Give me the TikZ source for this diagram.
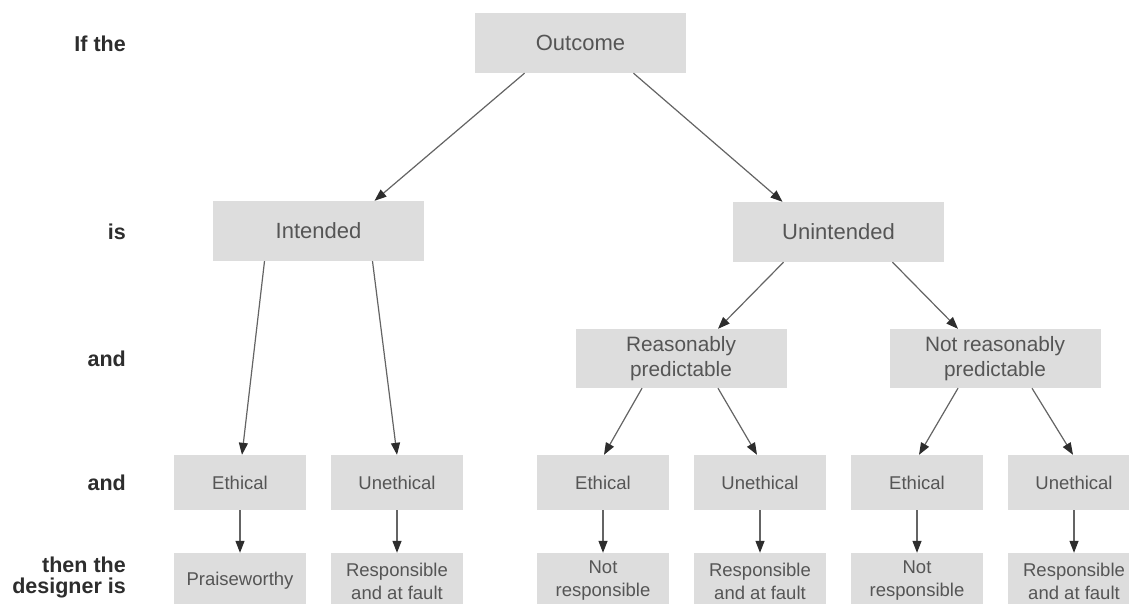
\documentclass[tikz,border=0pt]{standalone}
\usepackage{fontspec}
\setmainfont{Liberation Sans}
\usetikzlibrary{arrows.meta}
\definecolor{boxfill}{RGB}{221,221,221}
\definecolor{boxtext}{RGB}{85,85,85}
\definecolor{labeltext}{RGB}{45,45,45}
\definecolor{linecol}{RGB}{100,100,100}
\tikzset{
  bigbox/.style={fill=boxfill, text=boxtext, inner sep=0pt, align=center,
    minimum width=211pt, minimum height=60pt, font=\fontsize{22}{25}\selectfont},
  midbox/.style={fill=boxfill, text=boxtext, inner sep=0pt, align=center,
    minimum width=211pt, minimum height=59pt, font=\fontsize{20.8}{25}\selectfont},
  smallbox/.style={fill=boxfill, text=boxtext, inner sep=0pt, align=center,
    minimum width=132pt, minimum height=55pt, font=\fontsize{18.5}{23}\selectfont},
  endbox/.style={smallbox, minimum height=56pt},
  rowlabel/.style={anchor=east, text=labeltext, inner sep=0pt, align=right,
    font=\bfseries\fontsize{21.5}{21}\selectfont},
  arr/.style={draw=linecol, line width=1.2pt,
    -{Triangle[length=12pt,width=9pt,fill=labeltext,color=labeltext]}}
}
\begin{document}
\begin{tikzpicture}[x=1pt,y=-1pt]
\clip (0,0) rectangle (1129,603);
\fill[white] (0,0) rectangle (1129,603);
% row labels
\node[rowlabel] (l1) at (126,44) {If the};
\node[rowlabel] (l2) at (126,232) {is};
\node[rowlabel] (l3) at (126,359) {and};
\node[rowlabel] (l4) at (126,483) {and};
\node[rowlabel] (l5) at (126,577) {then the\\designer is};
% boxes
\node[bigbox] (out) at (580.5,43) {Outcome};
\node[bigbox] (int) at (318.5,231) {Intended};
\node[bigbox] (unint) at (838.5,232) {Unintended};
\node[midbox] (rp) at (681,358.5) {Reasonably\\predictable};
\node[midbox] (nrp) at (995,358.5) {Not reasonably\\predictable};
\node[smallbox] (e1) at (240,482.5) {Ethical};
\node[smallbox] (u1) at (397,482.5) {Unethical};
\node[smallbox] (e2) at (603,482.5) {Ethical};
\node[smallbox] (u2) at (760,482.5) {Unethical};
\node[smallbox] (e3) at (917,482.5) {Ethical};
\node[smallbox] (u3) at (1074,482.5) {Unethical};
\node[endbox] (r1) at (240,581) {Praiseworthy};
\node[endbox] (r2) at (397,581) {Responsible\\and at fault};
\node[endbox] (r3) at (603,581) {Not\\responsible};
\node[endbox] (r4) at (760,581) {Responsible\\and at fault};
\node[endbox] (r5) at (917,581) {Not\\responsible};
\node[endbox] (r6) at (1074,581) {Responsible\\and at fault};
% connectors
\draw[arr] ([xshift=-56pt]out.south) -- ([xshift=56pt]int.north);
\draw[arr] ([xshift=53pt]out.south) -- ([xshift=-56pt]unint.north);
\draw[arr] ([xshift=-54pt]int.south) -- ([xshift=2pt]e1.north);
\draw[arr] ([xshift=54pt]int.south) -- (u1.north);
\draw[arr] ([xshift=-55pt]unint.south) -- ([xshift=37pt]rp.north);
\draw[arr] ([xshift=54pt]unint.south) -- ([xshift=-37pt]nrp.north);
\draw[arr] ([xshift=-39pt]rp.south) -- ([xshift=1pt]e2.north);
\draw[arr] ([xshift=37pt]rp.south) -- ([xshift=-3pt]u2.north);
\draw[arr] ([xshift=-37pt]nrp.south) -- ([xshift=2pt]e3.north);
\draw[arr] ([xshift=37pt]nrp.south) -- ([xshift=-1pt]u3.north);
\draw[arr] (e1) -- (r1);
\draw[arr] (u1) -- (r2);
\draw[arr] (e2) -- (r3);
\draw[arr] (u2) -- (r4);
\draw[arr] (e3) -- (r5);
\draw[arr] (u3) -- (r6);
\end{tikzpicture}
\end{document}
